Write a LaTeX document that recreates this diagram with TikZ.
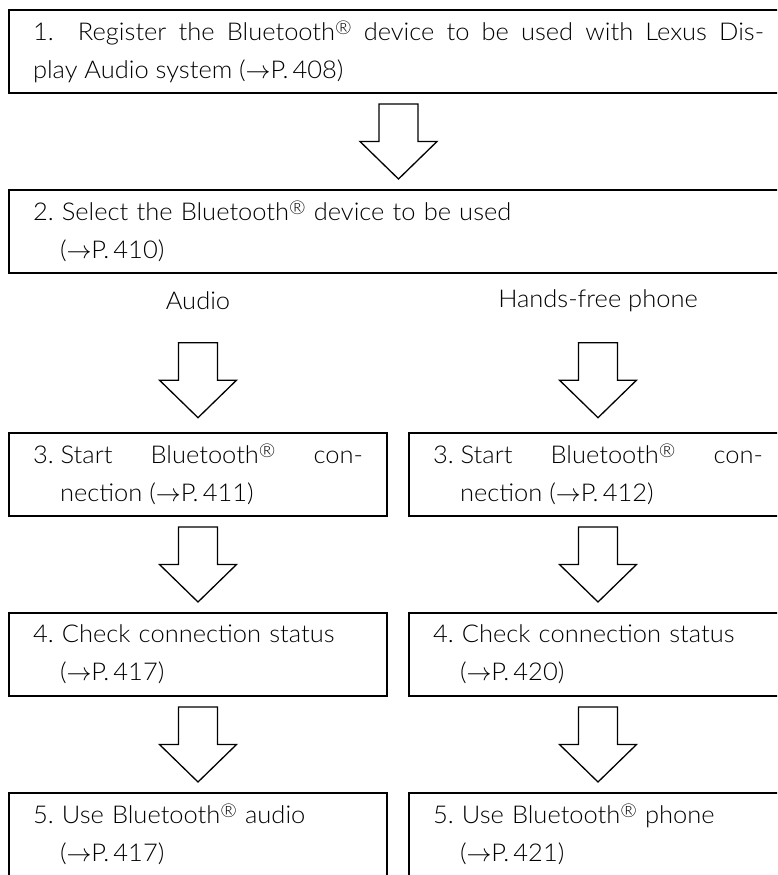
\documentclass[tikz,border=0pt]{standalone}
\usepackage{fontspec}
\setmainfont{Lato Light}[FakeStretch=1.04]
\usetikzlibrary{positioning, calc}

\tikzset{
  stepbox/.style={draw, rectangle, line width=2.6pt, outer sep=0pt,
    inner xsep=24pt, inner ysep=0pt, minimum height=83pt,
    anchor=north west, align=left, font=\fontsize{24.5}{38}\selectfont},
  widebox/.style={stepbox, text width=731pt},
  halfbox/.style={stepbox, text width=330pt},
  branch/.style={font=\fontsize{24.5}{38}\selectfont},
  arrowline/.style={line width=1.3pt, line join=miter},
  blockarrow/.pic={
    \draw[arrowline] (0,37.5) -- (-38.5,0) -- (-19.5,0) -- (-19.5,-37.5)
      -- (19.5,-37.5) -- (19.5,0) -- (38.5,0) -- cycle;
  }
}
\newcommand{\indentref}{\hspace*{27pt}}
\newcommand{\reg}{\raisebox{0.25em}{\fontsize{19}{19}\selectfont ®}}

\begin{document}
\begin{tikzpicture}[x=1pt, y=-1pt]
\useasboundingbox (0,0) rectangle (777,875);
\clip (0,0) rectangle (777,875);

% common steps
\node[widebox, align=justify] (step1) at (9,10)
  {1.\ \ Register the Bluetooth\reg{} device to be used with Lexus Dis-\linebreak
   play Audio system ($\rightarrow$P.\,408)};
\node[widebox, below=97pt of step1] (step2)
  {2.~Select the Bluetooth\reg{} device to be used\\
   \indentref($\rightarrow$P.\,410)};

% audio / phone branches
\node[halfbox, align=justify, below=160pt of step2.south west, anchor=north west] (audio3)
  {\mbox{3.~Start} Bluetooth\reg{} con-\linebreak
   \indentref nection ($\rightarrow$P.\,411)};
\node[halfbox, align=justify, right=22pt of audio3] (phone3)
  {\mbox{3.~Start} Bluetooth\reg{} con-\linebreak
   \indentref nection ($\rightarrow$P.\,412)};
\node[halfbox, below=97pt of audio3] (audio4)
  {4.~Check connection status\\ \indentref($\rightarrow$P.\,417)};
\node[halfbox, below=97pt of phone3] (phone4)
  {4.~Check connection status\\ \indentref($\rightarrow$P.\,420)};
\node[halfbox, below=97pt of audio4] (audio5)
  {5.~Use Bluetooth\reg{} audio\\ \indentref($\rightarrow$P.\,417)};
\node[halfbox, below=97pt of phone4] (phone5)
  {5.~Use Bluetooth\reg{} phone\\ \indentref($\rightarrow$P.\,421)};

\node[branch] (laudio) at ($(step2.south -| audio3.north)+(0,28)$) {Audio};
\node[branch] (lphone) at ($(step2.south -| phone3.north)+(0,28)$) {Hands-free phone};

% block arrows
\pic at ($(step1.south)!0.5!(step2.north)$) {blockarrow};
\pic at ($(laudio)!0.6!(audio3.north)$) {blockarrow};
\pic at ($(lphone)!0.6!(phone3.north)$) {blockarrow};
\foreach \col in {audio, phone} {
  \pic at ($(\col3.south)!0.5!(\col4.north)$) {blockarrow};
  \pic at ($(\col4.south)!0.5!(\col5.north)$) {blockarrow};
}
\end{tikzpicture}
\end{document}
